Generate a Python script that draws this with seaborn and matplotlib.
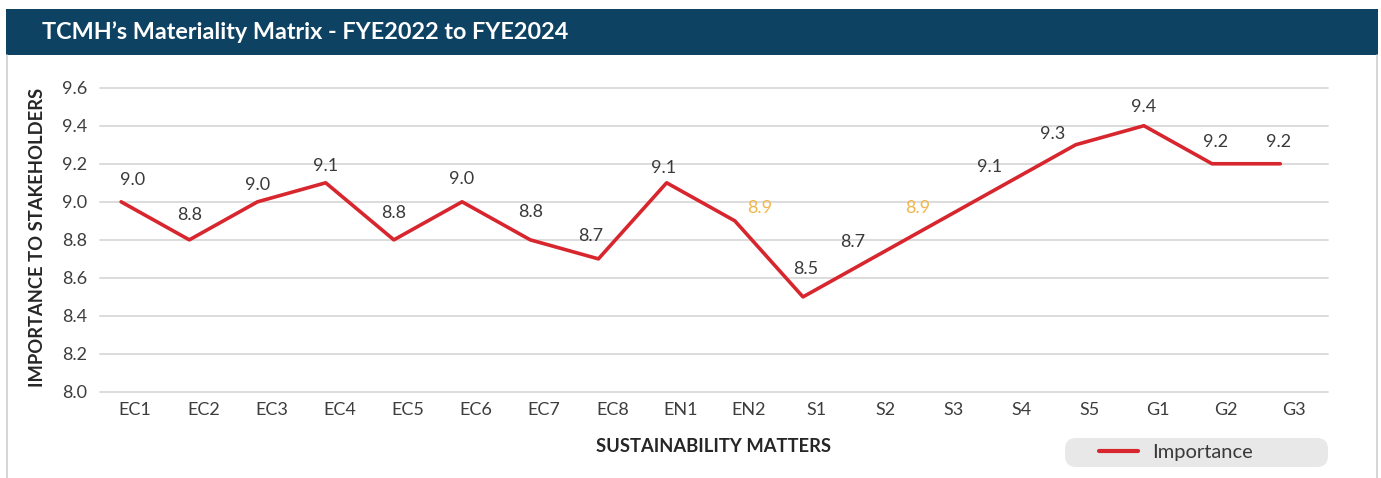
import matplotlib
matplotlib.use("Agg")
import matplotlib.pyplot as plt
import matplotlib.transforms as mtransforms
from matplotlib.patches import Rectangle, FancyBboxPatch
from matplotlib.lines import Line2D
import seaborn as sns
import pandas as pd

# Sustainability matters and their importance scores
matters = ["EC1", "EC2", "EC3", "EC4", "EC5", "EC6", "EC7", "EC8", "EN1", "EN2",
           "S1", "S2", "S3", "S4", "S5", "G1", "G2", "G3"]
importance = [9.0, 8.8, 9.0, 9.1, 8.8, 9.0, 8.8, 8.7, 9.1, 8.9,
              8.5, 8.7, 8.9, 9.1, 9.3, 9.4, 9.2, 9.2]
highlighted = ["EN2", "S3"]
y_ticks = [8.0, 8.2, 8.4, 8.6, 8.8, 9.0, 9.2, 9.4, 9.6]

# label nudges in pixels (dx, dy) relative to each point
label_nudge = [(11, 14), (0, 17), (0, 9), (0, 9), (0, 19), (0, 15), (0, 20), (-8, 15),
               (-3, 7), (25, 5), (3, 20), (-18, 9), (-22, 5), (-18, 8), (-23, 3),
               (0, 11), (3, 14), (-2, 14)]

df = pd.DataFrame({"matter": matters, "importance": importance})

sns.set_theme(style="white")
plt.rcParams["font.family"] = ["Lato", "DejaVu Sans"]

W, H = 1381, 478
fig = plt.figure(figsize=(W / 100, H / 100), dpi=100)
fig.patch.set_facecolor("white")
inch = fig.dpi_scale_trans

# header bar
fig.patches.append(Rectangle((0.06, (H - 55) / 100), 13.72, 0.46, transform=inch,
                             facecolor="#0e4263", edgecolor="none", zorder=0))
fig.text(42 / W, 1 - 32 / H, "TCMH\u2019s Materiality Matrix - FYE2022 to FYE2024",
         color="white", fontsize=16.8, fontweight="bold", ha="left", va="center")

# panel side borders
for xb in (7, 1377):
    fig.add_artist(Line2D([xb / W, xb / W], [0, 1 - 55 / H], transform=fig.transFigure,
                          color="#cfcfcf", lw=1.2))

ax = fig.add_axes([100 / W, 1 - 392 / H, 1228 / W, (392 - 87.7) / H])
sns.lineplot(data=df, x="matter", y="importance", color="#d7262e", lw=2.6,
             sort=False, ax=ax, legend=False)

ax.set_xlim(-0.31, 17.7)
ax.set_ylim(8.0, 9.6)
ax.set_yticks(y_ticks)
ax.set_yticklabels([f"{v:.1f}" for v in y_ticks])
ax.grid(axis="y", color="#d9d9d9", lw=1.3)
ax.grid(axis="x", visible=False)
for gl in ax.get_ygridlines():
    gl.set_clip_on(False)
for s in ax.spines.values():
    s.set_visible(False)
ax.tick_params(axis="both", length=0, labelsize=13, colors="#3d3d3d")
ax.tick_params(axis="y", pad=9)
ax.tick_params(axis="x", pad=7)
ax.set_xlabel("")
ax.set_ylabel("")

# shift the category labels slightly to the right of their points
shift = mtransforms.ScaledTranslation(14 / 100, 0, inch)
for lab in ax.get_xticklabels():
    lab.set_transform(lab.get_transform() + shift)

# value labels
for i, (m, v) in enumerate(zip(matters, importance)):
    dx, dy = label_nudge[i]
    col = "#f2b64a" if m in highlighted else "#3a3a3a"
    ax.annotate(f"{v:.1f}", (i, v), xytext=(dx * 0.72, dy * 0.72),
                textcoords="offset points", ha="center", va="bottom",
                fontsize=13, color=col)

fig.text(38 / W, 1 - 237.5 / H, "IMPORTANCE TO STAKEHOLDERS", rotation=90,
         ha="center", va="center", fontsize=13.2, fontweight="bold", color="#262626")
fig.text(713 / W, 1 - 446 / H, "SUSTAINABILITY MATTERS",
         ha="center", va="center", fontsize=13.2, fontweight="bold", color="#262626")

# legend
fig.patches.append(FancyBboxPatch((10.65, (H - 467) / 100), 2.63, 0.29,
                                  boxstyle="round,pad=0,rounding_size=0.11",
                                  transform=inch, facecolor="#e8e8e8", edgecolor="none"))
handle = Line2D([], [], color="#d7262e", lw=3)
fig.legend([handle], ["Importance"], loc="center", bbox_to_anchor=(1176 / W, 1 - 452 / H),
           frameon=False, fontsize=14.5, handlelength=1.9, handletextpad=0.7,
           labelcolor="#3a3a3a")

fig.savefig("out.png", dpi=100)
